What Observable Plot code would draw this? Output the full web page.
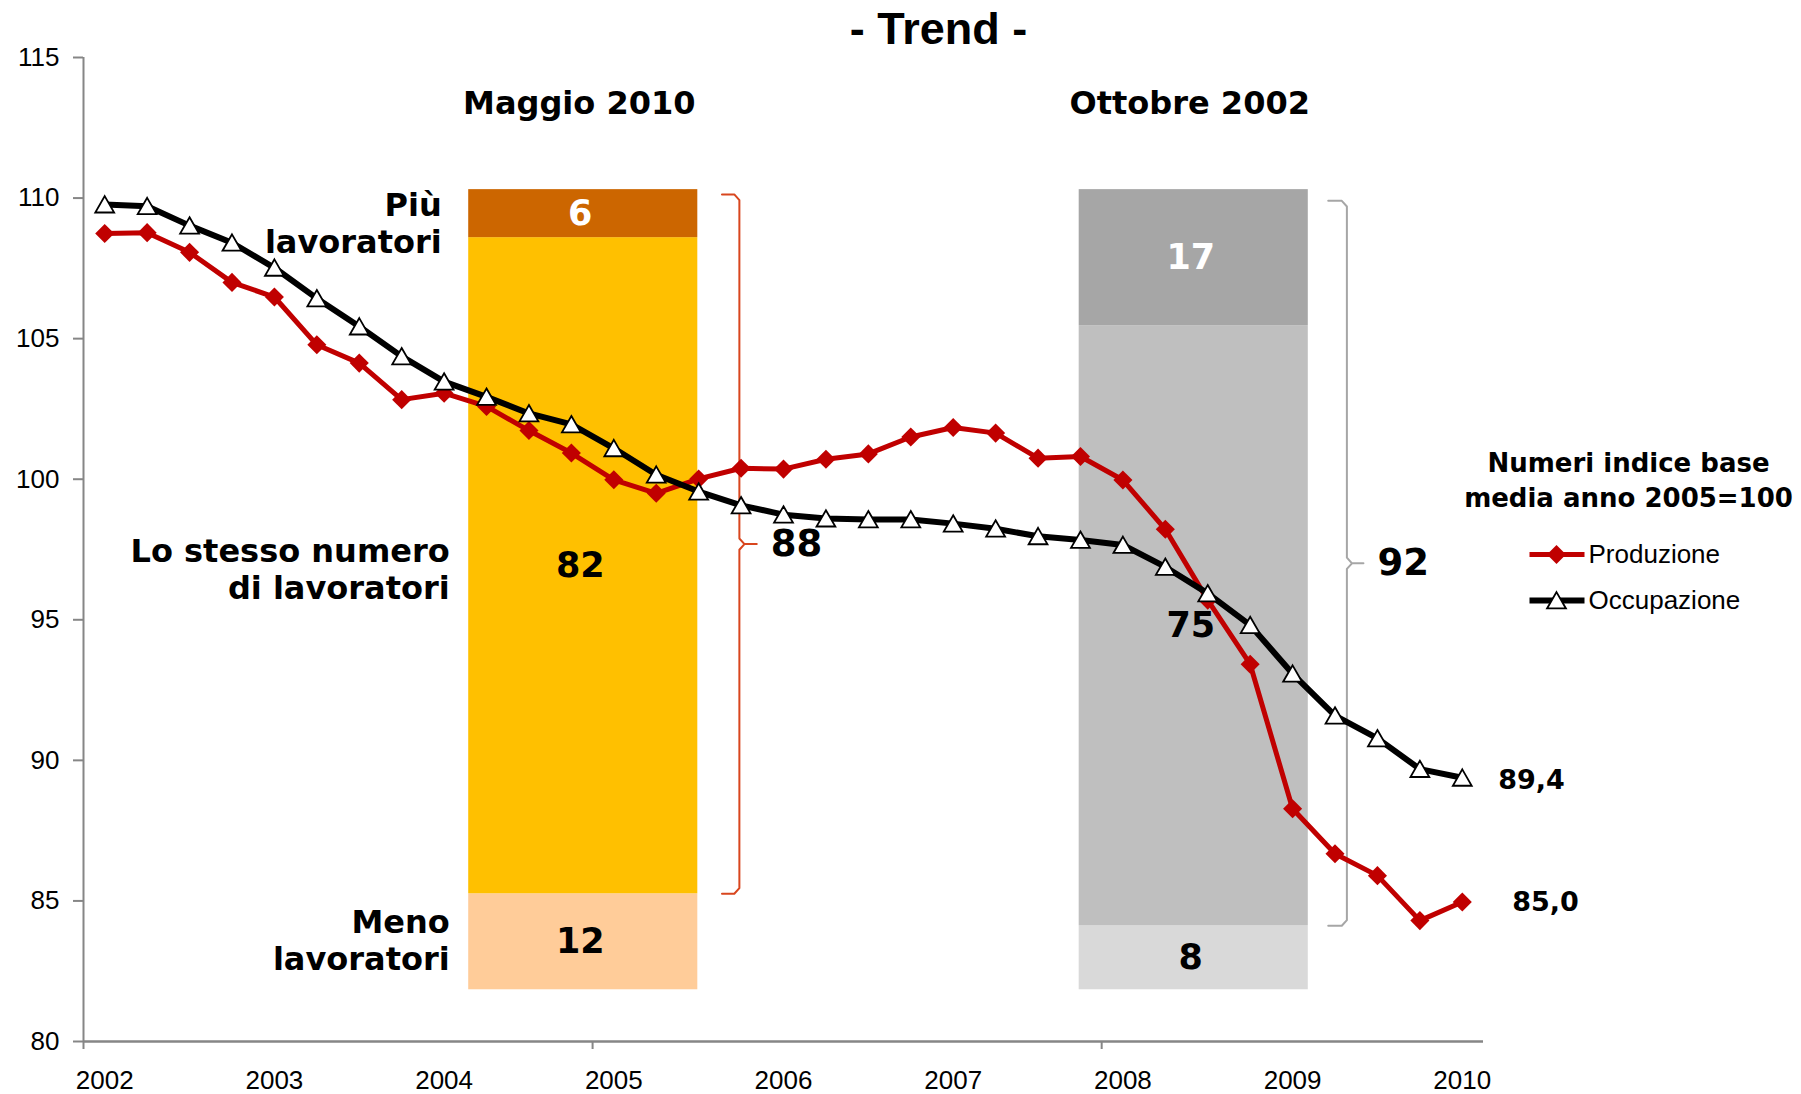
<!DOCTYPE html>
<html>
<head>
<meta charset="utf-8">
<script src="https://cdn.jsdelivr.net/npm/d3@7"></script>
<script src="https://cdn.jsdelivr.net/npm/@observablehq/plot@0.6"></script>
<style>
  html, body { margin: 0; padding: 0; background: #fff; }
  #chart svg { display: block; }
</style>
</head>
<body>
<div id="chart"></div>
<script>
// ---------------- DATA ----------------
const anni = ["2002", "2003", "2004", "2005", "2006", "2007", "2008", "2009", "2010"];
const produzione = [108.74, 108.77, 108.07, 107.00, 106.48, 104.78, 104.13, 102.83, 103.06, 102.59, 101.73, 100.93,
  99.98, 99.50, 100.01, 100.39, 100.36, 100.71, 100.90, 101.50, 101.84, 101.64, 100.75, 100.81,
  99.97, 98.22, 95.70, 93.42, 88.28, 86.68, 85.90, 84.30, 84.96];
const occupazione = [109.77, 109.71, 109.02, 108.41, 107.52, 106.43, 105.43, 104.37, 103.47, 102.93, 102.34, 101.95,
  101.10, 100.16, 99.56, 99.07, 98.74, 98.60, 98.57, 98.57, 98.42, 98.24, 97.97, 97.84,
  97.66, 96.88, 95.94, 94.81, 93.08, 91.59, 90.78, 89.69, 89.38];
const ticksY = [80, 85, 90, 95, 100, 105, 110, 115];

const gruppi = ["Maggio 2010", "Ottobre 2002"];
const categorie = ["Meno\nlavoratori", "Lo stesso numero\ndi lavoratori", "Più\nlavoratori"];
const meno = [12, 8];
const stesso = [82, 75];
const piu = [6, 17];

const titolo = "- Trend -";
const legendaTitolo = "Numeri indice base\nmedia anno 2005=100";
const serieNomi = ["Produzione", "Occupazione"];

// ---------------- LAYOUT ----------------
const W = 1801, H = 1094, mL = 83, mR = 318, mT = 57, mB = 53;
const xDom = [-0.5, 32.5], yDom = [80, 115];
const ix = px => xDom[0] + (px - mL) / (W - mL - mR) * (xDom[1] - xDom[0]);
const vy = py => yDom[0] + (H - mB - py) / (H - mT - mB) * (yDom[1] - yDom[0]);

const barBase = 81.84, barTop = 110.3;
const barCenter = [11.28, 25.67], barHalf = 2.7;
const toY = s => barBase + s / 100 * (barTop - barBase);
const colori = [["#FFCC99", "#FFC000", "#CC6600"], ["#D9D9D9", "#BFBFBF", "#A6A6A6"]];
const coloreTesto = ["black", "black", "white"];
const bracketColore = ["#D8461E", "#A6A6A6"];
const bracketInset = [0.6, 1.4];
const bracketHook = [0.57, 0.47], bracketVert = [0.98, 0.91], bracketPtr = [1.39, 1.30];
const rosso = "#C00000";
const boldFont = "'DejaVu Sans', Verdana, sans-serif";
const arial = "'Liberation Sans', Arial, sans-serif";
const fmt = v => d3.format(".1f")(v).replace(".", ",");

// stacked segments
const segs = gruppi.flatMap((g, gi) => {
  let c = 0;
  return [meno[gi], stesso[gi], piu[gi]].map((v, k) => {
    const s = {gi, k, v, y1: toY(c), y2: toY(c + v)};
    c += v;
    return s;
  });
});

// curly brackets
function bracket(gi) {
  const xr = barCenter[gi] + barHalf;
  const xh = xr + bracketHook[gi], xv = xr + bracketVert[gi], xp = xr + bracketPtr[gi];
  const top = toY(100 - bracketInset[gi]);
  const bot = toY(meno[gi]);
  const mid = (top + bot) / 2;
  const rx = 0.12, ry = 0.2;
  return [[xh, top], [xv - rx, top], [xv, top - ry], [xv, mid + ry], [xv + rx, mid], [xp, mid],
          [xv + rx, mid], [xv, mid - ry], [xv, bot + ry], [xv - rx, bot], [xh, bot]]
    .map(([x, y]) => ({gi, x, y, mid, xp}));
}
const bracketPts = [0, 1].flatMap(bracket);
const bracketMid = [0, 1].map(gi => bracket(gi)[0]);

const labelDx = [-19, -19, -27];
const labelDy = [-2, 3, 9];

const plot = Plot.plot({
  width: W, height: H,
  marginLeft: mL, marginRight: mR, marginTop: mT, marginBottom: mB,
  x: {domain: xDom},
  y: {domain: yDom},
  color: {type: "identity"},
  style: {fontFamily: arial, background: "white", color: "black", overflow: "visible"},
  marks: [
    // stacked bars
    Plot.rect(segs, {
      x1: d => barCenter[d.gi] - barHalf, x2: d => barCenter[d.gi] + barHalf,
      y1: "y1", y2: "y2", fill: d => colori[d.gi][d.k]
    }),
    // brackets
    Plot.line(bracketPts, {x: "x", y: "y", z: "gi", stroke: d => bracketColore[d.gi], strokeWidth: 2, curve: "linear"}),
    Plot.text(bracketMid, {
      x: "xp", y: "mid", text: d => String(stesso[d.gi] + piu[d.gi]),
      dx: 14, textAnchor: "start", lineAnchor: "middle",
      fontFamily: boldFont, fontWeight: "bold", fontSize: 37, fill: "black"
    }),
    // category labels (left of first bar)
    ...categorie.map((c, k) => Plot.text([c], {
      x: () => barCenter[0] - barHalf,
      y: () => (segs[k].y1 + segs[k].y2) / 2,
      text: d => d, dx: labelDx[k], dy: labelDy[k],
      textAnchor: "end", lineAnchor: "middle", lineHeight: 1.17,
      fontFamily: boldFont, fontWeight: "bold", fontSize: 32, fill: "black"
    })),
    // bar segment values
    Plot.text(segs, {
      x: d => barCenter[d.gi], y: d => (d.y1 + d.y2) / 2, text: d => String(d.v),
      dx: -3, lineAnchor: "middle", fill: d => coloreTesto[d.k],
      fontFamily: boldFont, fontWeight: "bold", fontSize: 35
    }),
    // group headers
    Plot.text(gruppi, {
      x: (d, i) => barCenter[i], y: () => vy(103), text: d => d, dx: -4,
      lineAnchor: "middle", fontFamily: boldFont, fontWeight: "bold", fontSize: 32, fill: "black"
    }),
    // axes
    Plot.ruleX([-0.5], {stroke: "#868686", strokeWidth: 2}),
    Plot.ruleY([80], {stroke: "#868686", strokeWidth: 2.5}),
    Plot.axisY(ticksY, {tickSize: 10, tickPadding: 14, fontSize: 26, stroke: "#868686", strokeWidth: 2, fill: "black", label: null}),
    Plot.axisX([-0.5, 11.5, 23.5], {tickSize: 8, tickFormat: () => "", stroke: "#868686", strokeWidth: 2, label: null}),
    Plot.text(anni, {x: (d, i) => i * 4, y: () => 80, text: d => d, dy: 39, lineAnchor: "middle", fontSize: 26, fill: "black"}),
    // Produzione
    Plot.line(produzione, {x: (d, i) => i, y: d => d, stroke: rosso, strokeWidth: 5}),
    Plot.dot(produzione, {x: (d, i) => i, y: d => d, symbol: "diamond2", r: 8.6, fill: rosso, stroke: "none"}),
    // Occupazione
    Plot.line(occupazione, {x: (d, i) => i, y: d => d, stroke: "black", strokeWidth: 6}),
    Plot.dot(occupazione, {x: (d, i) => i, y: d => d, symbol: "triangle", r: 7, fill: "white", stroke: "black", strokeWidth: 1.8, dy: 2.5}),
    // end labels
    Plot.text([produzione[produzione.length - 1]], {
      x: () => produzione.length - 1, y: d => d, text: fmt, dx: 50, textAnchor: "start", lineAnchor: "middle",
      fontFamily: boldFont, fontWeight: "bold", fontSize: 27, fill: "black"
    }),
    Plot.text([occupazione[occupazione.length - 1]], {
      x: () => occupazione.length - 1, y: d => d, text: fmt, dx: 36, dy: 3, textAnchor: "start", lineAnchor: "middle",
      fontFamily: boldFont, fontWeight: "bold", fontSize: 27, fill: "black"
    }),
    // title
    Plot.text([titolo], {
      x: () => ix(938), y: () => vy(29), text: d => d, lineAnchor: "middle",
      fontFamily: arial, fontWeight: "bold", fontSize: 45, fill: "black"
    }),
    // legend
    Plot.text([legendaTitolo], {
      x: () => ix(1628), y: () => vy(478), text: d => d, lineAnchor: "middle", lineHeight: 1.35,
      fontFamily: boldFont, fontWeight: "bold", fontSize: 26, fill: "black"
    }),
    Plot.link([serieNomi[0]], {x1: () => ix(1529), x2: () => ix(1584), y1: () => vy(554), y2: () => vy(554), stroke: rosso, strokeWidth: 5}),
    Plot.dot([serieNomi[0]], {x: () => ix(1556), y: () => vy(554), symbol: "diamond2", r: 8.6, fill: rosso, stroke: "none"}),
    Plot.link([serieNomi[1]], {x1: () => ix(1529), x2: () => ix(1584), y1: () => vy(600), y2: () => vy(600), stroke: "black", strokeWidth: 6}),
    Plot.dot([serieNomi[1]], {x: () => ix(1556), y: () => vy(600), symbol: "triangle", r: 7, fill: "white", stroke: "black", strokeWidth: 1.8, dy: 2.5}),
    Plot.text(serieNomi, {
      x: () => ix(1588), y: (d, i) => vy([554, 600][i]), text: d => d, textAnchor: "start", lineAnchor: "middle",
      fontFamily: arial, fontSize: 26, fill: "black"
    })
  ]
});
document.getElementById("chart").append(plot);
</script>
</body>
</html>
